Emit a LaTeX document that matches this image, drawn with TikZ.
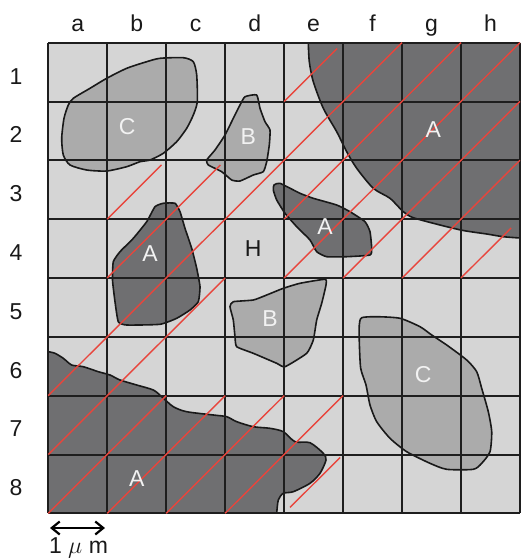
\documentclass[tikz,border=0pt]{standalone}
\usepackage{fontspec}
\setmainfont{Liberation Sans}
\usetikzlibrary{arrows.meta}
\definecolor{matrixgray}{HTML}{D5D5D5}
\definecolor{phasea}{HTML}{6F6F71}
\definecolor{phasebc}{HTML}{ABABAB}
\definecolor{hatchred}{HTML}{E8453C}
\definecolor{gridline}{HTML}{1E1E1E}

\tikzset{
  lbl/.style={font=\fontsize{11.5}{13}\selectfont,inner sep=0pt,text=black!90},
  grainlbl/.style={font=\fontsize{11.5}{13}\selectfont,inner sep=0pt,text=white!95!black},
  grain/.style={draw=black!90,line width=0.8pt,line join=round},
  hatch/.style={draw=hatchred,line width=0.7pt},
  gridln/.style={draw=gridline,line width=1pt},
}

\begin{document}
\begin{tikzpicture}[x=0.5pt,y=-0.5pt]
\useasboundingbox (0,0) rectangle (521,558);
\fill[matrixgray] (48.3,42.7) rectangle (520,513.3);

% phase A, top right corner
\fill[phasea] plot[smooth,tension=0.45] coordinates {(308.3,42.7) (309.3,61.7) (313.3,81.7) (323.3,108.3) (336.7,131.7) (346.7,151.7) (356.7,168.3) (373.3,188.3) (390,198.3) (403.3,211.7) (413.3,217.7) (440,225) (463.3,230.5) (486.7,234) (503.3,236.7) (520,238)} -- (520,42.7) -- cycle;
\draw[grain] plot[smooth,tension=0.45] coordinates {(308.3,42.7) (309.3,61.7) (313.3,81.7) (323.3,108.3) (336.7,131.7) (346.7,151.7) (356.7,168.3) (373.3,188.3) (390,198.3) (403.3,211.7) (413.3,217.7) (440,225) (463.3,230.5) (486.7,234) (503.3,236.7) (520,238)};

% phase A, bottom left corner
\fill[phasea] plot[smooth,tension=0.45] coordinates {(48.3,351.7) (55,353.3) (63.3,358.3) (71.7,365) (83.3,366.7) (98.3,371.7) (110,375) (120,380) (136.7,385) (153.3,390) (161.7,396.7) (173.3,406.7) (186.7,411.7) (213.3,415) (226.7,416.7) (236.7,421.7) (253.3,426.7) (270,428.3) (283.3,431.7) (295,441.7) (310,442.7) (323.3,453.3) (326,460) (320,473.3) (310,483.3) (293.3,491.7) (283.3,493.3) (278.3,500) (276.7,513.3)} -- (48.3,513.3) -- cycle;
\draw[grain] plot[smooth,tension=0.45] coordinates {(48.3,351.7) (55,353.3) (63.3,358.3) (71.7,365) (83.3,366.7) (98.3,371.7) (110,375) (120,380) (136.7,385) (153.3,390) (161.7,396.7) (173.3,406.7) (186.7,411.7) (213.3,415) (226.7,416.7) (236.7,421.7) (253.3,426.7) (270,428.3) (283.3,431.7) (295,441.7) (310,442.7) (323.3,453.3) (326,460) (320,473.3) (310,483.3) (293.3,491.7) (283.3,493.3) (278.3,500) (276.7,513.3)};

% isolated grains
\draw[grain,fill=phasebc] plot[smooth cycle,tension=0.4] coordinates {(73.3,98.3) (90,88.3) (106.7,78.3) (126.7,68.3) (146.7,61.7) (160,58.3) (183.3,57.7) (193.3,61.7) (196.7,75) (197.3,101.7) (193.3,115) (186.7,128.3) (176.7,141.7) (163.3,153.3) (150,160) (140,161.7) (126.7,166.7) (106.7,171) (86.7,170) (70,165) (63.3,155) (61.7,138.3) (64,118.3) (68.3,105)};
\draw[grain,fill=phasebc] plot[smooth cycle,tension=0.3] coordinates {(245,96.7) (256.7,95) (260,108.3) (265,121.7) (270,130) (269.3,145) (266.7,161.7) (263.3,171.7) (253.3,175) (240,181) (231.7,180) (221.7,171.7) (208.3,165) (206.7,160) (215,150) (225,135) (233.3,118.3) (240,105)};
\draw[grain,fill=phasea] plot[smooth cycle,tension=0.3] coordinates {(155,206.7) (163.3,203.3) (175,203.3) (180,211.7) (185,228.3) (191.7,248.3) (196.7,268.3) (200,286.7) (198.3,301.7) (190,310) (176.7,318.3) (160,324.3) (126.7,325) (118.3,321.7) (115,301.7) (112.5,280) (113.3,261.7) (120,251.7) (133.3,238.3) (146.7,221.7)};
\draw[grain,fill=phasea] plot[smooth cycle,tension=0.3] coordinates {(274,185) (280,183.3) (300,193.3) (313.3,198.3) (336.7,205) (350,211.7) (365,221.7) (370,231.7) (371.7,248.3) (370,255) (346.7,256.7) (326.7,256.7) (316.7,251.7) (310,240) (296.7,226.7) (285,213.3) (276.7,200) (273.3,190)};
\draw[grain,fill=phasebc] plot[smooth cycle,tension=0.3] coordinates {(230,306.7) (233.3,301.7) (253.3,300) (266.7,295) (283.3,288.3) (300,283.3) (325,279.3) (326,285) (321.7,303.3) (316.7,320) (313.3,340) (306.7,353.3) (285,366.7) (276.7,363.3) (253.3,353.3) (236.7,346.7) (235,336.7) (233.3,320)};
\draw[grain,fill=phasebc] plot[smooth cycle,tension=0.4] coordinates {(361.7,317.7) (376.7,316.7) (400,318.3) (420,326.7) (431.7,335) (446.7,345) (466.7,360) (476.7,371.7) (481.7,388.3) (488.3,411.7) (491.7,431.7) (490,451.7) (481.7,463.3) (473.3,469.3) (446.7,469.3) (430,463.3) (406.7,451.7) (390,438.3) (376.7,421.7) (370,405) (366,385) (360.7,368.3) (359.3,341.7) (359.3,325)};

% grid
\foreach \i in {0,...,8} {
  \draw[gridln] ({48.3+58.96*\i},42.7) -- ({48.3+58.96*\i},513.3);
  \draw[gridln] (48.3,{42.7+58.83*\i}) -- (520,{42.7+58.83*\i});
}

% hatched cells
\begin{scope}[shift={(48.3,513.3)},x=29.48pt,y=29.42pt]
\foreach \xa/\ya/\xb/\yb in {1/5/1.92/5.92, 1/4/2.92/5.92, 4/7/4.9/7.9, 0/2/6/8,
  0/1/3/4, 4/5/7/8, 0/0/2/2, 4/4/8/8, 1/0/3/2, 5/4/8/7,
  2/0/4/2, 6/4/8/6, 3/0/5/2, 7/4/7.85/4.85, 4.1/0.1/4.95/0.95}
  \draw[hatch] (\xa,\ya) -- (\xb,\yb);
\end{scope}

% grain labels
\node[grainlbl] (lblC1) at (127.3,126.7) {C};
\node[grainlbl] (lblB1) at (248.3,136.7) {B};
\node[grainlbl] (lblA1) at (150,253.3) {A};
\node[lbl] (lblH) at (253.3,248.3) {H};
\node[grainlbl] (lblA2) at (433.3,130) {A};
\node[grainlbl] (lblA3) at (325,226.7) {A};
\node[grainlbl] (lblB2) at (270,318.3) {B};
\node[grainlbl] (lblC2) at (423.3,375) {C};
\node[grainlbl] (lblA4) at (136.7,478.3) {A};

% axis labels
\foreach \c [count=\i from 0] in {a,b,c,d,e,f,g,h}
  \node[lbl,anchor=base] (col-\c) at ({77.8+58.96*\i},31.5) {\c};
\foreach \r in {1,...,8}
  \node[lbl,anchor=base] (row-\r) at (16,{84+58.83*(\r-1)}) {\r};

% scale bar
\coordinate (barL) at (50,528);
\coordinate (barR) at (105,528);
\draw[line width=1.1pt,{Straight Barb[length=4pt,width=6.5pt]}-{Straight Barb[length=4pt,width=6.5pt]}] (barL) -- (barR);
\node[lbl] (unit) at (78.5,548) {1 $\mu$ m};
\end{tikzpicture}
\end{document}
